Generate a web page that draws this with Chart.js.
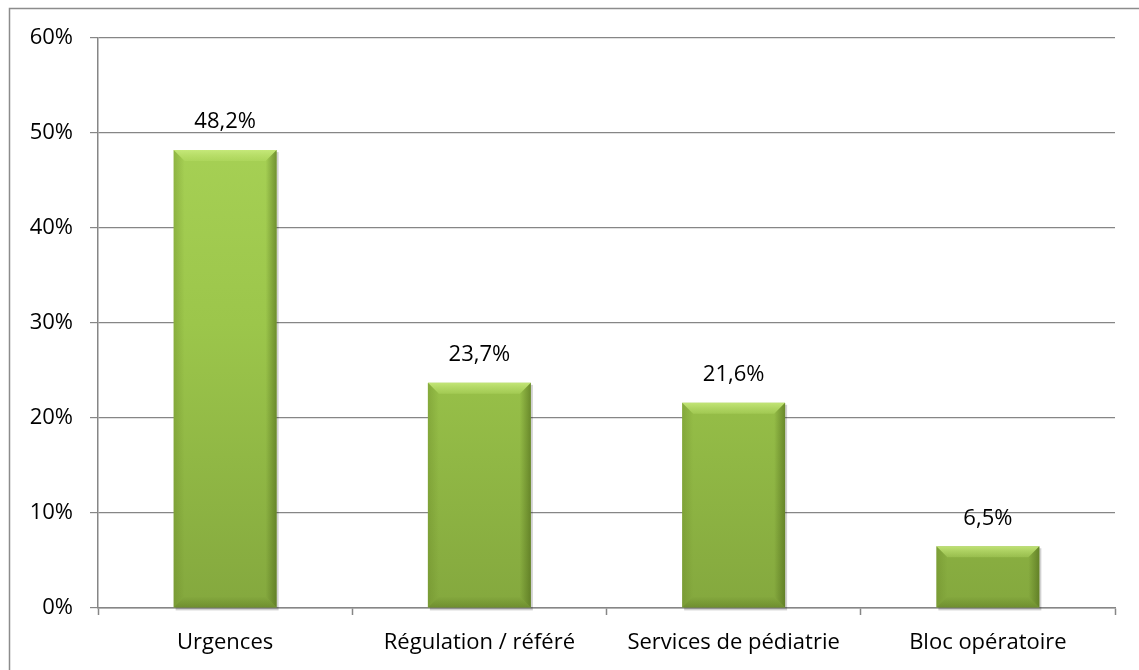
<!DOCTYPE html>
<html>
<head>
<meta charset="utf-8">
<script src="https://cdn.jsdelivr.net/npm/chart.js@4.4.0/dist/chart.umd.min.js"></script>
<style>
  html, body { margin: 0; padding: 0; background: #fff; }
  #wrap { width: 1139px; height: 670px; }
</style>
</head>
<body>
<div id="wrap"><canvas id="grafico"></canvas></div>
<script>
  // Données
  const categories = ['Urgences', 'Régulation / référé', 'Services de pédiatrie', 'Bloc opératoire'];
  const valeurs = [48.2, 23.7, 21.6, 6.5];
  const ticksY = [0, 10, 20, 30, 40, 50, 60];

  const police = "'Open Sans', 'Noto Sans', sans-serif";

  // Cadre gris autour du graphique
  const cadre = {
    id: 'cadre',
    beforeDraw(chart) {
      const c = chart.ctx;
      c.save();
      c.strokeStyle = '#8c8c8c';
      c.lineWidth = 1.5;
      c.strokeRect(9.5, 8.5, 1200, 700);
      c.restore();
    }
  };

  // Ombre sous les barres
  const ombre = {
    id: 'ombre',
    beforeDatasetsDraw(chart) {
      const c = chart.ctx;
      chart.getDatasetMeta(0).data.forEach(bar => {
        c.save();
        c.fillStyle = 'rgba(0,0,0,0.18)';
        c.fillRect(bar.x - bar.width / 2 + 2, bar.y + 2, bar.width, bar.base - bar.y + 1);
        c.restore();
      });
    }
  };

  // Effet biseauté sur les barres + étiquettes
  const biseau = {
    id: 'biseau',
    afterDatasetsDraw(chart) {
      const c = chart.ctx;
      const meta = chart.getDatasetMeta(0);
      meta.data.forEach((bar, i) => {
        const l = bar.x - bar.width / 2, r = bar.x + bar.width / 2;
        const t = bar.y, b = bar.base;
        const d = Math.min(11, (b - t) / 3);
        c.save();
        // haut clair
        let g = c.createLinearGradient(0, t, 0, t + d);
        g.addColorStop(0, 'rgba(205,238,130,0.8)'); g.addColorStop(1, 'rgba(190,228,110,0.3)');
        c.fillStyle = g;
        c.beginPath(); c.moveTo(l, t); c.lineTo(r, t); c.lineTo(r - d, t + d); c.lineTo(l + d, t + d); c.closePath(); c.fill();
        // gauche
        g = c.createLinearGradient(l, 0, l + d, 0);
        g.addColorStop(0, 'rgba(100,130,35,0.35)'); g.addColorStop(1, 'rgba(100,130,35,0.0)');
        c.fillStyle = g;
        c.beginPath(); c.moveTo(l, t); c.lineTo(l + d, t + d); c.lineTo(l + d, b - d); c.lineTo(l, b); c.closePath(); c.fill();
        // droite
        g = c.createLinearGradient(r, 0, r - d, 0);
        g.addColorStop(0, 'rgba(70,95,20,0.55)'); g.addColorStop(1, 'rgba(70,95,20,0.0)');
        c.fillStyle = g;
        c.beginPath(); c.moveTo(r, t); c.lineTo(r - d, t + d); c.lineTo(r - d, b - d); c.lineTo(r, b); c.closePath(); c.fill();
        // bas
        g = c.createLinearGradient(0, b, 0, b - d);
        g.addColorStop(0, 'rgba(80,105,25,0.4)'); g.addColorStop(1, 'rgba(80,105,25,0.0)');
        c.fillStyle = g;
        c.beginPath(); c.moveTo(l, b); c.lineTo(r, b); c.lineTo(r - d, b - d); c.lineTo(l + d, b - d); c.closePath(); c.fill();
        c.restore();

        // étiquette de valeur
        c.save();
        c.font = '22px ' + police;
        c.fillStyle = '#000';
        c.textAlign = 'center';
        c.textBaseline = 'middle';
        c.fillText(valeurs[i].toFixed(1).replace('.', ',') + '%', bar.x, t - 28);
        c.restore();
      });
    }
  };

  const ctx = document.getElementById('grafico').getContext('2d');
  new Chart(ctx, {
    type: 'bar',
    data: {
      labels: categories,
      datasets: [{
        data: valeurs,
        backgroundColor: (context) => {
          const area = context.chart.chartArea;
          if (!area) return '#9cc84a';
          const g = context.chart.ctx.createLinearGradient(0, area.top, 0, area.bottom);
          g.addColorStop(0, '#acd65a');
          g.addColorStop(0.5, '#9cc64b');
          g.addColorStop(1, '#84a83e');
          return g;
        },
        borderWidth: 0,
        categoryPercentage: 1,
        barPercentage: 0.405
      }]
    },
    options: {
      responsive: true,
      maintainAspectRatio: false,
      animation: false,
      layout: { padding: { left: 0, right: 24, top: 38, bottom: 0 } },
      plugins: {
        legend: { display: false },
        tooltip: { enabled: false }
      },
      scales: {
        x: {
          afterFit(scale) { scale.height = 62; },
          grid: { drawOnChartArea: false, color: '#868686', tickLength: 7, tickWidth: 1.5 },
          border: { color: '#868686', width: 1.5 },
          ticks: { color: '#000', font: { family: police, size: 22 }, padding: 15 }
        },
        y: {
          min: 0,
          max: 60,
          afterFit(scale) { scale.width = 98; },
          afterBuildTicks(scale) { scale.ticks = ticksY.map(v => ({ value: v })); },
          grid: { color: '#868686', lineWidth: 1.2, tickLength: 8 },
          border: { color: '#868686', width: 1.5 },
          ticks: {
            color: '#000',
            font: { family: police, size: 22 },
            padding: 17,
            callback: v => v + '%'
          }
        }
      }
    },
    plugins: [cadre, ombre, biseau]
  });
</script>
</body>
</html>
